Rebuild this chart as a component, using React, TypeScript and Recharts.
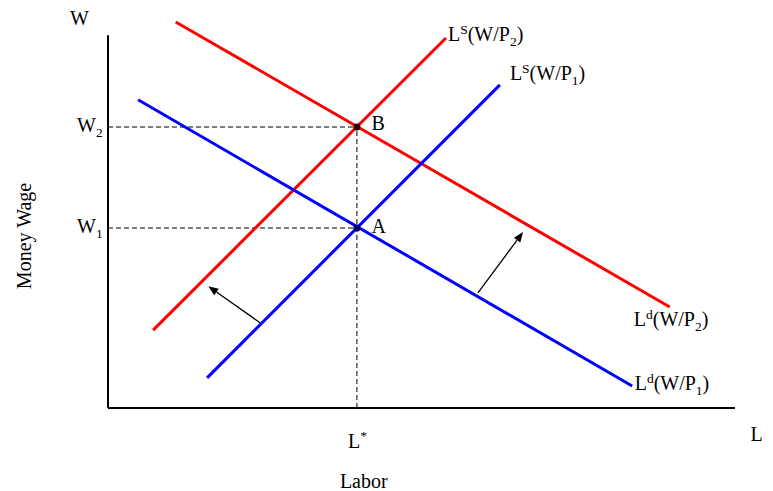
import { LineChart, Line, XAxis, YAxis, ReferenceLine, ReferenceDot } from 'recharts';

// Labour market: demand and supply curves at two price levels (P1 < P2)
const demandP1 = [{ l: 4.8, w: 82.7 }, { l: 83.6, w: 5.9 }];
const demandP2 = [{ l: 10.8, w: 103.6 }, { l: 89.6, w: 27.1 }];
const supplyP1 = [{ l: 15.8, w: 8.1 }, { l: 62.5, w: 86.7 }];
const supplyP2 = [{ l: 7.2, w: 20.9 }, { l: 53.9, w: 99.3 }];

// equilibrium employment and the two money wages
const lStar = 39.7;
const wageLevels = [48.3, 75.4];
const equilibria = [
    { name: 'A', l: lStar, w: wageLevels[0], color: '#00006e' },
    { name: 'B', l: lStar, w: wageLevels[1], color: '#2a0000' },
];

// shift arrows (from the P1 curve toward the P2 curve)
const shiftArrows = [
    { from: { l: 24.4, w: 22.7 }, to: { l: 16.0, w: 32.7 } },
    { from: { l: 59.0, w: 30.9 }, to: { l: 66.2, w: 47.2 } },
];

const axisMax = { l: 100, w: 100 };

const FONT = '"Liberation Serif", "Times New Roman", serif';
const FS = 20;
const SMALL = 13.5;

const Arrow = (props: any) => {
    const { x1, y1, x2, y2 } = props;
    const ang = Math.atan2(y2 - y1, x2 - x1);
    const len = 10;
    const half = 4;
    const bx = x2 - len * Math.cos(ang);
    const by = y2 - len * Math.sin(ang);
    const pts = [
        `${x2},${y2}`,
        `${bx - half * Math.sin(ang)},${by + half * Math.cos(ang)}`,
        `${bx + half * Math.sin(ang)},${by - half * Math.cos(ang)}`,
    ].join(' ');
    return (
        <g>
            <line x1={x1} y1={y1} x2={bx} y2={by} stroke="#000" strokeWidth={1.3} />
            <polygon points={pts} fill="#000" />
        </g>
    );
};

// curve label like L^S(W/P_2)
const curveLabel = (sup: string, sub: string, dx: number, dy: number) => (props: any) => (
    <text x={props.cx + dx} y={props.cy + dy} fontFamily={FONT} fontSize={FS} fill="#000">
        <tspan>L</tspan>
        <tspan dy={-7} fontSize={SMALL}>{sup}</tspan>
        <tspan dy={7}>(W/P</tspan>
        <tspan dy={5} fontSize={SMALL}>{sub}</tspan>
        <tspan dy={-5}>)</tspan>
    </text>
);

const plainLabel = (text: string, dx: number, dy: number, sub?: string, sup?: string) => (props: any) => (
    <text x={props.cx + dx} y={props.cy + dy} fontFamily={FONT} fontSize={FS} fill="#000">
        <tspan>{text}</tspan>
        {sub && <tspan dy={5} fontSize={SMALL}>{sub}</tspan>}
        {sup && <tspan dy={-8} fontSize={SMALL}>{sup}</tspan>}
    </text>
);

const rotatedLabel = (text: string, dx: number, dy: number) => (props: any) => {
    const x = props.cx + dx;
    const y = props.cy + dy;
    return (
        <text x={x} y={y} transform={`rotate(-90 ${x} ${y})`} textAnchor="middle" fontFamily={FONT} fontSize={FS} fill="#000">
            {text}
        </text>
    );
};

const App = () => {
    return (
        <div style={{ position: 'absolute', left: 0, top: 0, width: 773, height: 491 }}>
            <LineChart width={773} height={491} margin={{ top: 13, right: 38, bottom: 83, left: 108 }}>
                <XAxis dataKey="l" type="number" domain={[0, 100]} hide allowDataOverflow />
                <YAxis dataKey="w" type="number" domain={[0, 106]} hide allowDataOverflow />

                {/* axes */}
                <ReferenceLine segment={[{ x: 0, y: 0 }, { x: 0, y: axisMax.w }]} stroke="#000" strokeWidth={2} />
                <ReferenceLine segment={[{ x: 0, y: 0 }, { x: axisMax.l, y: 0 }]} stroke="#000" strokeWidth={2} />

                {/* dashed guides */}
                {wageLevels.map((w) => (
                    <ReferenceLine key={w} segment={[{ x: 0, y: w }, { x: lStar, y: w }]} stroke="#000" strokeDasharray="5 3" strokeWidth={1} />
                ))}
                <ReferenceLine segment={[{ x: lStar, y: 0 }, { x: lStar, y: wageLevels[1] }]} stroke="#000" strokeDasharray="5 3" strokeWidth={1} />

                <Line data={supplyP2} dataKey="w" stroke="#ff0000" strokeWidth={3} dot={false} isAnimationActive={false} />
                <Line data={demandP2} dataKey="w" stroke="#ff0000" strokeWidth={3} dot={false} isAnimationActive={false} />
                <Line data={supplyP1} dataKey="w" stroke="#0000ff" strokeWidth={3} dot={false} isAnimationActive={false} />
                <Line data={demandP1} dataKey="w" stroke="#0000ff" strokeWidth={3} dot={false} isAnimationActive={false} />

                {shiftArrows.map((a, i) => (
                    <ReferenceLine key={i} segment={[{ x: a.from.l, y: a.from.w }, { x: a.to.l, y: a.to.w }]} shape={Arrow} />
                ))}

                {equilibria.map((p) => (
                    <ReferenceDot key={p.name} x={p.l} y={p.w} r={3.5} fill={p.color} stroke="none" />
                ))}
                <ReferenceDot x={lStar} y={wageLevels[0]} shape={plainLabel('A', 14.5, 5)} />
                <ReferenceDot x={lStar} y={wageLevels[1]} shape={plainLabel('B', 14.5, 2.5)} />

                {/* curve labels, anchored at curve ends */}
                <ReferenceDot x={supplyP2[1].l} y={supplyP2[1].w} shape={curveLabel('S', '2', 2, 3)} />
                <ReferenceDot x={supplyP1[1].l} y={supplyP1[1].w} shape={curveLabel('S', '1', 10, -5)} />
                <ReferenceDot x={demandP2[1].l} y={demandP2[1].w} shape={curveLabel('d', '2', -36, 19)} />
                <ReferenceDot x={demandP1[1].l} y={demandP1[1].w} shape={curveLabel('d', '1', 2.5, 4)} />

                {/* axis labels */}
                <ReferenceDot x={0} y={axisMax.w} shape={plainLabel('W', -38, -10.5)} />
                <ReferenceDot x={0} y={wageLevels[1]} shape={plainLabel('W', -31, 5, '2')} />
                <ReferenceDot x={0} y={wageLevels[0]} shape={plainLabel('W', -31, 4.5, '1')} />
                <ReferenceDot x={lStar} y={0} shape={plainLabel('L', -9, 40, undefined, '*')} />
                <ReferenceDot x={lStar} y={0} shape={plainLabel('Labor', -17, 80)} />
                <ReferenceDot x={axisMax.l} y={0} shape={plainLabel('L', 15.5, 33)} />
                <ReferenceDot x={0} y={50} shape={rotatedLabel('Money Wage', -77, 14.3)} />
            </LineChart>
        </div>
    );
};

export default App;
